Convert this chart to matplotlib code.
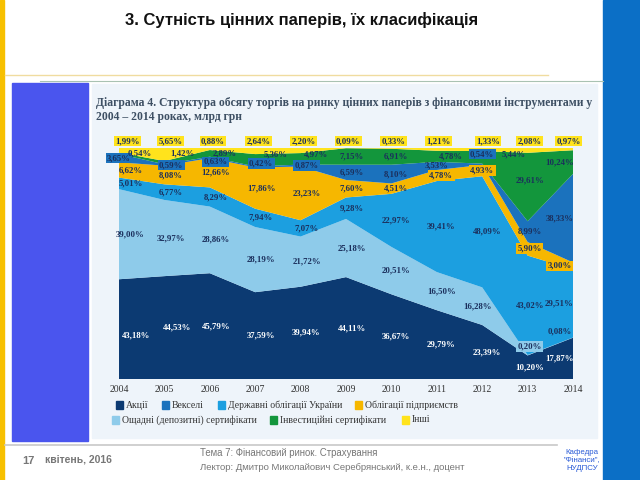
import matplotlib.pyplot as plt
import matplotlib.patches as mpatches
from matplotlib.lines import Line2D
import numpy as np

years = [2004, 2005, 2006, 2007, 2008, 2009, 2010, 2011, 2012, 2013, 2014]

# shares, % (stack order bottom -> top)
akcii = [43.18, 44.53, 45.79, 37.59, 39.94, 44.11, 36.67, 29.79, 23.39, 10.20, 17.87]
oshchadni = [39.00, 32.97, 28.86, 28.19, 21.72, 25.18, 20.51, 16.50, 16.28, 0.20, 0.08]
derzh = [5.01, 6.77, 8.29, 7.94, 7.07, 9.28, 22.97, 39.41, 48.09, 43.02, 29.51]
oblig = [6.62, 8.08, 12.66, 17.86, 23.23, 7.60, 4.51, 4.78, 4.93, 5.90, 3.00]
veksel = [3.65, 0.59, 0.63, 0.42, 0.87, 6.59, 8.10, 3.53, 0.54, 8.99, 38.33]
invest = [0.54, 1.42, 2.89, 5.36, 4.97, 7.15, 6.91, 4.78, 5.44, 29.61, 10.24]
inshi = [1.99, 5.65, 0.88, 2.64, 2.20, 0.09, 0.33, 1.21, 1.33, 2.08, 0.97]

layers = [
    ('Акції', akcii, '#0c3a72'),
    ('Ощадні (депозитні) сертифікати', oshchadni, '#8ecbea'),
    ('Державні облігації України', derzh, '#1c9fe0'),
    ('Облігації підприємств', oblig, '#f6b700'),
    ('Векселі', veksel, '#1b72bd'),
    ('Інвестиційні сертифікати', invest, '#13963c'),
    ('Інші', inshi, '#ffe31c'),
]

legend_rows = [
    [('Акції', 116), ('Векселі', 162), ('Державні облігації України', 218), ('Облігації підприємств', 355)],
    [('Ощадні (депозитні) сертифікати', 112), ('Інвестиційні сертифікати', 270), ('Інші', 402)],
]

# label placement tweaks
year_dx = [0.25, 0.15, 0.13, 0.13, 0.13, 0.13, 0.1, 0.1, 0.1, 0.05, -0.3]
top_dx = [0.18, 0.13, 0.07, 0.07, 0.07, 0.05, 0.05, 0.03, 0.13, 0.05, -0.1]
dx_fix = {(5, 0): 0.45, (5, 1): 0.4, (5, 2): 0.33, (5, 3): 0.45, (5, 4): 0.33,
          (5, 7): 0.3, (5, 8): 0.7, (4, 0): 0.0, (4, 7): 0.0, (4, 8): 0.0,
          (3, 8): 0.0, (1, 8): -0.1, (0, 0): 0.37, (0, 1): 0.28}
y_fix = {(5, 1): 97.5, (4, 2): 94.0, (4, 3): 93.3, (5, 3): 97.3, (5, 4): 97.3,
         (4, 8): 97.4, (5, 8): 97.4, (5, 9): 86.0, (1, 9): 14.0, (1, 10): 20.5,
         (0, 0): 19.0}
boxed = {(4, 0), (4, 1), (4, 2), (4, 3), (4, 4), (4, 8),
         (3, 7), (3, 8), (3, 9), (3, 10), (1, 9)}

serif = 'Liberation Serif'
sans = 'Liberation Sans'


def fx(x):
    return x / 640


def fy(y):
    return 1 - y / 480


def rect(x0, y0, x1, y1, color):
    fig.add_artist(mpatches.Rectangle((fx(x0), fy(y1)), fx(x1) - fx(x0), fy(y0) - fy(y1),
                                      transform=fig.transFigure, color=color, zorder=-1))


fig = plt.figure(figsize=(6.4, 4.8), dpi=100)
fig.patch.set_facecolor('white')

# slide decoration
rect(0, 0, 4, 480, '#f7c000')
rect(603, 0, 640, 480, '#0b6fc6')
fig.add_artist(Line2D([fx(5), fx(548)], [fy(75), fy(75)], transform=fig.transFigure, color='#f0dca0', lw=1))
fig.add_artist(Line2D([fx(40), fx(603)], [fy(81), fy(81)], transform=fig.transFigure, color='#a9c2b2', lw=0.8))
rect(12, 83, 88, 441, '#4a55ee')
rect(92, 84, 597, 438, '#eef4fa')
fig.add_artist(Line2D([fx(5), fx(557)], [fy(445), fy(445)], transform=fig.transFigure, color='#c8c8c8', lw=1.2))

fig.text(fx(302), fy(20), '3. Сутність цінних паперів, їх класифікація', ha='center', va='center',
         fontsize=12, fontweight='bold', family=sans, color='#111111')

fig.text(fx(96), fy(103), 'Діаграма 4. Структура обсягу торгів на ринку цінних паперів з фінансовими інструментами у',
         ha='left', va='center', fontsize=8.4, fontweight='bold', family=serif, color='#3d4f63')
fig.text(fx(96), fy(117), '2004 – 2014 роках, млрд грн', ha='left', va='center',
         fontsize=8.4, fontweight='bold', family=serif, color='#3d4f63')

# footer
fig.text(fx(22), fy(461), '17', ha='left', va='center', fontsize=8, fontweight='bold', family=sans, color='#777777')
fig.text(fx(45), fy(460), 'квітень, 2016', ha='left', va='center', fontsize=7.5, fontweight='bold',
         family=sans, color='#777777')
fig.text(fx(200), fy(453), 'Тема 7: Фінансовий ринок. Страхування', ha='left', va='center',
         fontsize=6.9, family=sans, color='#777777')
fig.text(fx(200), fy(467), 'Лектор: Дмитро Миколайович Серебрянський, к.е.н., доцент', ha='left', va='center',
         fontsize=6.8, family=sans, color='#777777')
fig.text(fx(582), fy(461), 'Кафедра\n"Фінанси",\nНУДПСУ', ha='center', va='center',
         fontsize=5.7, family=sans, color='#2a5bd7', linespacing=1.2)

# chart
ax = fig.add_axes([fx(119), fy(379), fx(573) - fx(119), fy(148) - fy(379)])
ax.set_zorder(2)
ax.set_facecolor('none')
ax.stackplot(years, *[l[1] for l in layers], colors=[l[2] for l in layers], linewidth=0)
ax.set_xlim(years[0], years[-1])
ax.set_ylim(0, 100)
for s in ax.spines.values():
    s.set_visible(False)
ax.set_yticks([])
ax.set_xticks(years)
ax.set_xticklabels([str(y) for y in years], family=serif, fontsize=7, color='#333333')
ax.tick_params(axis='x', length=0, pad=4)

cum = np.zeros(len(years))
for li, (name, vals, col) in enumerate(layers):
    vals = np.array(vals)
    for i, v in enumerate(vals):
        txt = ('%.2f%%' % v).replace('.', ',')
        if li == len(layers) - 1:
            ax.text(years[i] + top_dx[i], 103, txt, ha='center', va='center', fontsize=6.3,
                    fontweight='bold', family=serif, color='#1b2f5c', clip_on=False,
                    bbox=dict(boxstyle='square,pad=0.15', fc='#ffe31c', ec='none'))
            continue
        x = years[i] + dx_fix.get((li, i), year_dx[i])
        y = y_fix.get((li, i), cum[i] + v / 2)
        color = 'white' if li == 0 else '#1b2f5c'
        bbox = None
        if (li, i) in boxed:
            bbox = dict(boxstyle='square,pad=0.15', fc=col, ec='none')
        ax.text(x, y, txt, ha='center', va='center', fontsize=6.3, fontweight='bold',
                family=serif, color=color, clip_on=False, bbox=bbox)
    cum += vals

# legend
row_y = [405, 420]
colors = {l[0]: l[2] for l in layers}
for r, row in enumerate(legend_rows):
    for name, x0 in row:
        rect(x0, row_y[r] - 4, x0 + 7, row_y[r] + 4, colors[name])
        fig.text(fx(x0 + 10), fy(row_y[r]), name, ha='left', va='center', fontsize=7,
                 family=serif, color='#333333')

fig.savefig('out.png', dpi=100)
